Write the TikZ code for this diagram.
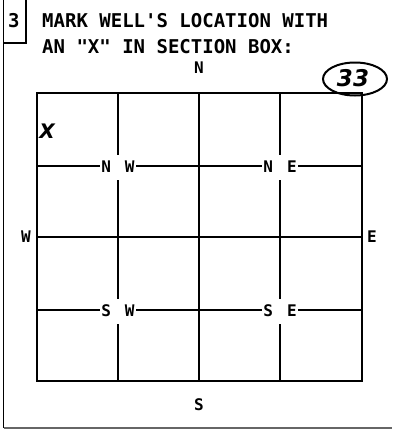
\documentclass[tikz,border=0pt]{standalone}
\usepackage{fontspec}
\newfontfamily\monof{DejaVu Sans Mono}
\newfontfamily\handf{DejaVu Sans}
\begin{document}
\begin{tikzpicture}[x=1pt,y=-1pt,
  titletext/.style={font=\monof\bfseries\fontsize{19}{19}\selectfont, anchor=base west, inner sep=0pt},
  dirlabel/.style={font=\monof\bfseries\fontsize{16}{16}\selectfont, inner sep=0pt},
  quarter/.style={font=\monof\bfseries\fontsize{16}{16}\selectfont, fill=white, inner xsep=1.5pt, inner ysep=0pt, minimum height=25pt},
  gridline/.style={line width=1.5pt},
  frameline/.style={line width=1.2pt}]
\useasboundingbox (0,0) rectangle (392,429);
% outer frame and number box
\draw[frameline] (3.5,0) coordinate (ftop) -- (3.5,428) coordinate (fbl);
\draw[frameline, black!60] (fbl) -- (392,428) coordinate (fbr);
\draw[frameline] (3.5,43) coordinate (bbl) -- (26,43) coordinate (bbr) -- (26,0) coordinate (btr);
\node[titletext] (num) at (8,27) {3};
\node[titletext] (t1) at (42,27) {MARK WELL'S LOCATION WITH};
\node[titletext] (t2) at (42,53) {AN "X" IN SECTION BOX:};
% grid
\coordinate (g00) at (37,93);
\coordinate (g11) at (362,381);
\draw[gridline] (118,93) -- (118,381);
\draw[gridline] (199,93) -- (199,381);
\draw[gridline] (280,93) -- (280,381);
\draw[gridline] (37,166) -- (362,166);
\draw[gridline] (37,237) -- (362,237);
\draw[gridline] (37,310) -- (362,310);
\draw[line width=2pt] (g00) rectangle (g11);
% quarter labels
\node[quarter] (nw) at (118,167) {N\hspace{14pt}W};
\node[quarter] (ne) at (280,167) {N\hspace{14pt}E};
\node[quarter] (sw) at (118,311) {S\hspace{14pt}W};
\node[quarter] (se) at (280,311) {S\hspace{14pt}E};
% direction labels
\node[dirlabel] (n) at (199,68) {N};
\node[dirlabel] (s) at (199,405) {S};
\node[dirlabel] (w) at (26,237) {W};
\node[dirlabel] (e) at (372,237) {E};
% mark
\node[font=\handf\bfseries\itshape\fontsize{20}{20}\selectfont, inner sep=0pt] (x) at (47,131) {X};
% section number
\draw[line width=2pt] (355,79) ellipse [x radius=32, y radius=16.5];
\node[font=\handf\bfseries\itshape\fontsize{23}{23}\selectfont, inner sep=0pt] (sec) at (353,78) {33};
\end{tikzpicture}
\end{document}
